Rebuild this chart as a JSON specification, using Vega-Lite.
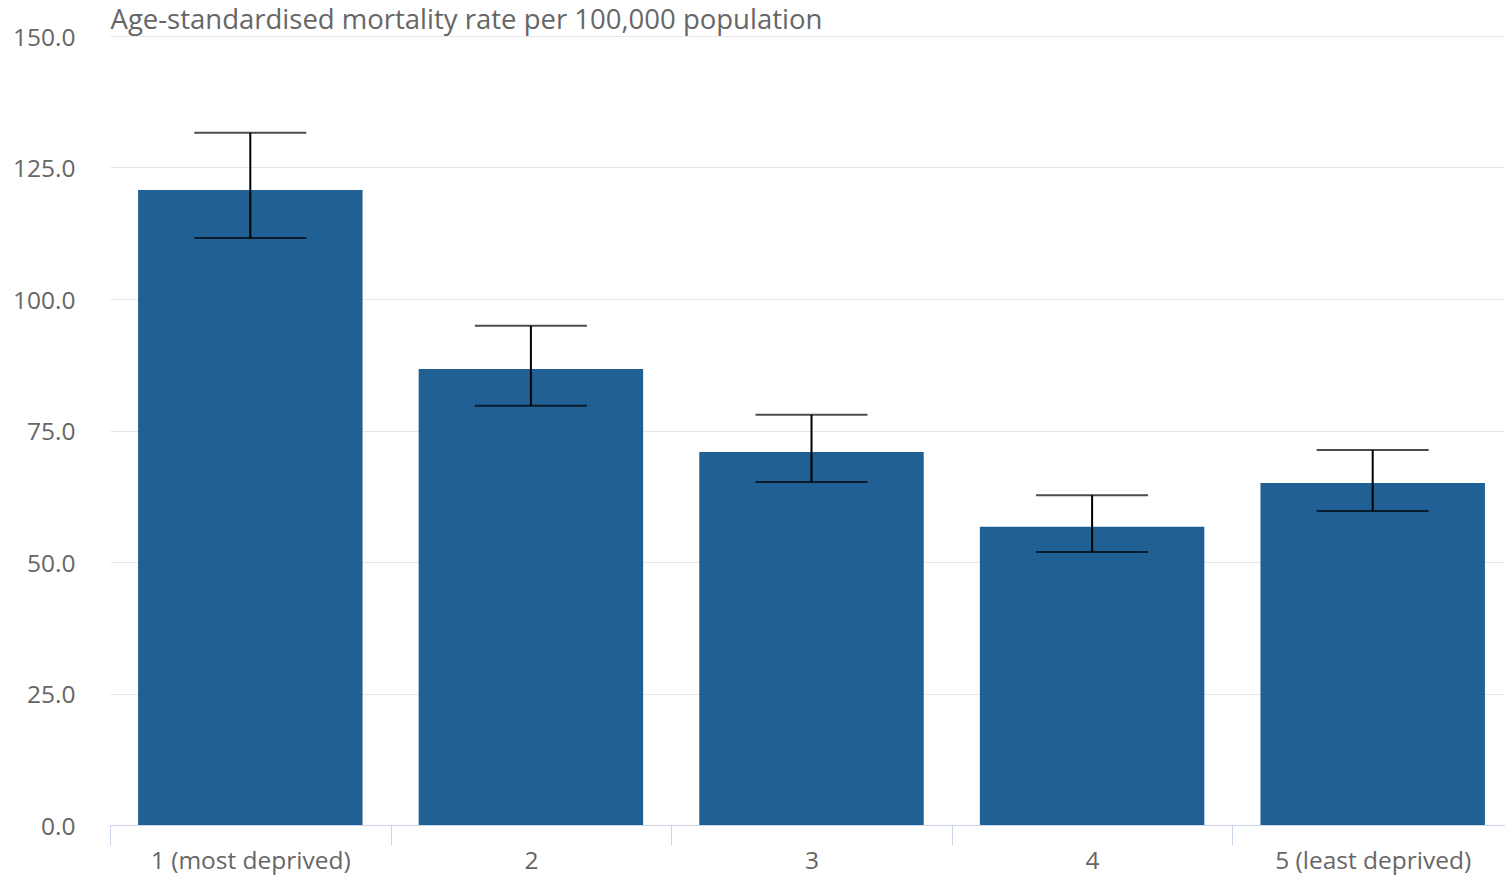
{
  "$schema": "https://vega.github.io/schema/vega-lite/v6.json",
  "autosize": {"type": "none"},
  "width": 1403,
  "height": 789,
  "padding": {"left": 110, "top": 36, "right": 0, "bottom": 50},
  "background": "white",
  "config": {
    "view": {"stroke": null},
    "font": "Open Sans"
  },
  "data": {
    "values": [
      {"quintile": "1 (most deprived)", "rate": 120.7, "lower": 111.6, "upper": 131.6},
      {"quintile": "2", "rate": 86.7, "lower": 79.7, "upper": 94.9},
      {"quintile": "3", "rate": 70.9, "lower": 65.2, "upper": 78.0},
      {"quintile": "4", "rate": 56.7, "lower": 51.9, "upper": 62.7},
      {"quintile": "5 (least deprived)", "rate": 65.0, "lower": 59.7, "upper": 71.3}
    ]
  },
  "encoding": {
    "x": {
      "field": "quintile",
      "type": "nominal",
      "sort": null,
      "scale": {"paddingInner": 0.2, "paddingOuter": 0.1},
      "axis": {
        "title": null,
        "labelAngle": 0,
        "labelFont": "Open Sans",
        "labelFontSize": 24.5,
        "labelColor": "#666666",
        "labelPadding": 4,
        "labelOffset": 28,
        "labelLimit": 0,
        "domainColor": "#ccd6eb",
        "domainWidth": 1,
        "tickColor": "#ccd6eb",
        "tickWidth": 1,
        "tickSize": 20,
        "bandPosition": 0,
        "tickOffset": -28,
        "tickExtra": true,
        "grid": false
      }
    }
  },
  "layer": [
    {
      "mark": {"type": "bar", "color": "#206095"},
      "encoding": {
        "y": {
          "field": "rate",
          "type": "quantitative",
          "scale": {"domain": [0, 150], "nice": false},
          "axis": {
            "values": [0, 25, 50, 75, 100, 125, 150],
            "format": ".1f",
            "domain": false,
            "ticks": false,
            "labelFont": "Open Sans",
            "labelFontSize": 24.5,
            "labelColor": "#666666",
            "labelPadding": 35,
            "labelOffset": 2,
            "gridColor": "#e6e6e6",
            "gridWidth": 1,
            "title": "Age-standardised mortality rate per 100,000 population",
            "titleAngle": 0,
            "titleAlign": "left",
            "titleBaseline": "alphabetic",
            "titleX": 0,
            "titleY": -8,
            "titleFont": "Open Sans",
            "titleFontSize": 27.5,
            "titleFontWeight": "normal",
            "titleColor": "#666666"
          }
        }
      }
    },
    {
      "mark": {"type": "rule", "color": "black", "strokeWidth": 2},
      "encoding": {
        "y": {"field": "lower", "type": "quantitative"},
        "y2": {"field": "upper"}
      }
    },
    {
      "mark": {"type": "tick", "color": "black", "thickness": 2, "size": 112, "orient": "horizontal"},
      "encoding": {
        "y": {"field": "lower", "type": "quantitative"}
      }
    },
    {
      "mark": {"type": "tick", "color": "black", "thickness": 2, "size": 112, "orient": "horizontal"},
      "encoding": {
        "y": {"field": "upper", "type": "quantitative"}
      }
    }
  ]
}
